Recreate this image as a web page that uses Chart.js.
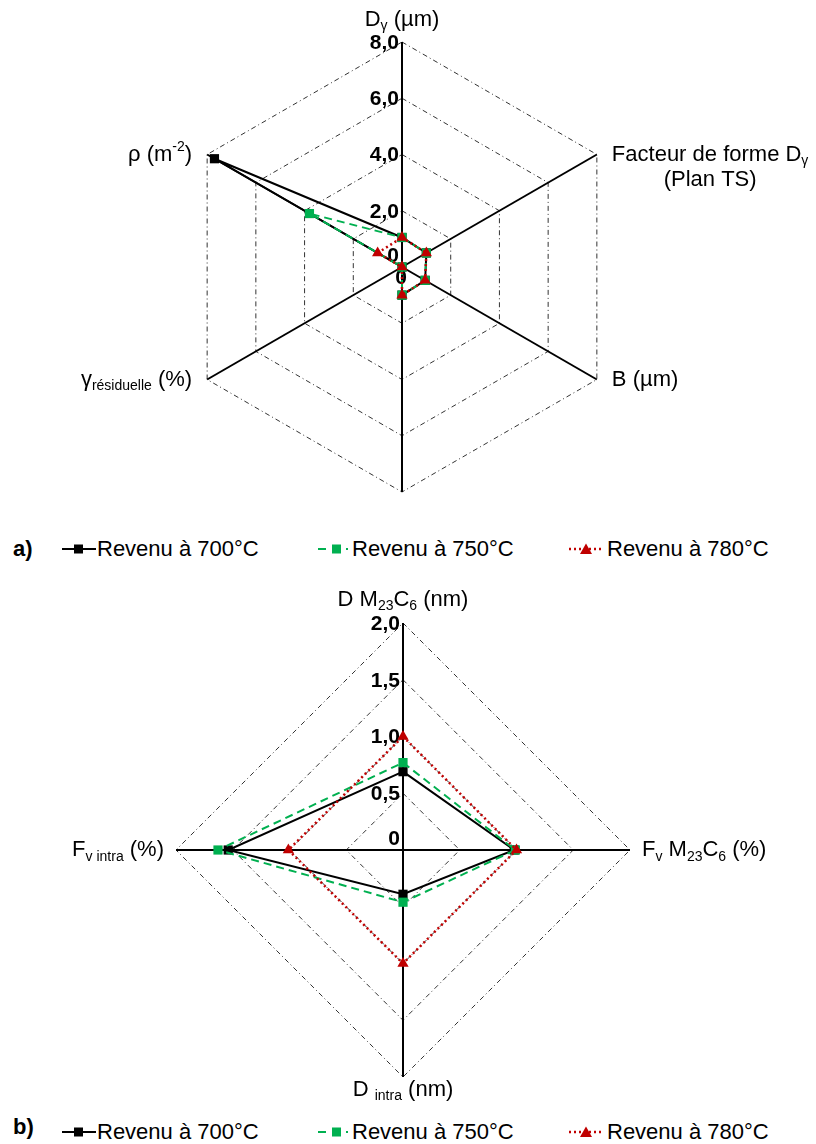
<!DOCTYPE html>
<html>
<head>
<meta charset="utf-8">
<script src="https://cdn.jsdelivr.net/npm/chart.js@4.4.1/dist/chart.umd.min.js"></script>
<style>
  body { margin: 0; background: #fff; font-family: "Liberation Sans", Arial, sans-serif; }
  #page { position: relative; width: 816px; height: 1144px; overflow: hidden; }
  canvas { position: absolute; left: 0; }
  .legend { position: absolute; left: 0; width: 816px; height: 30px; font-size: 22px; color: #000; }
  .legend span { position: absolute; top: 0; white-space: nowrap; line-height: 25px; }
  .legend svg { position: absolute; top: 6px; }
  .legend .tag { font-weight: bold; }
</style>
</head>
<body>
<div id="page">
  <canvas id="chartA" width="816" height="510" style="top:0"></canvas>
  <div class="legend" style="top:536px">
    <span class="tag" style="left:13px">a)</span>
    <svg style="left:62px" width="34" height="14"><line x1="0" y1="7" x2="34" y2="7" stroke="#000" stroke-width="2"/><rect x="12" y="2.5" width="9" height="9" fill="#000"/></svg>
    <span style="left:97px">Revenu à 700°C</span>
    <svg style="left:318px" width="30" height="14"><line x1="0" y1="7" x2="30" y2="7" stroke="#00B050" stroke-width="2" stroke-dasharray="8,6"/><rect x="14" y="2.5" width="9" height="9" fill="#00B050"/></svg>
    <span style="left:352px">Revenu à 750°C</span>
    <svg style="left:569px" width="34" height="14"><line x1="0" y1="7" x2="34" y2="7" stroke="#C00000" stroke-width="2.5" stroke-dasharray="2,3"/><polygon points="17,1.5 23,12 11,12" fill="#C00000"/></svg>
    <span style="left:607px">Revenu à 780°C</span>
  </div>
  <canvas id="chartB" width="816" height="600" style="top:510px"></canvas>
  <div class="legend" style="top:1119px">
    <span class="tag" style="left:13px;top:-5px">b)</span>
    <svg style="left:62px" width="34" height="14"><line x1="0" y1="7" x2="34" y2="7" stroke="#000" stroke-width="2"/><rect x="12" y="2.5" width="9" height="9" fill="#000"/></svg>
    <span style="left:97px">Revenu à 700°C</span>
    <svg style="left:318px" width="30" height="14"><line x1="0" y1="7" x2="30" y2="7" stroke="#00B050" stroke-width="2" stroke-dasharray="8,6"/><rect x="14" y="2.5" width="9" height="9" fill="#00B050"/></svg>
    <span style="left:352px">Revenu à 750°C</span>
    <svg style="left:569px" width="34" height="14"><line x1="0" y1="7" x2="34" y2="7" stroke="#C00000" stroke-width="2.5" stroke-dasharray="2,3"/><polygon points="17,1.5 23,12 11,12" fill="#C00000"/></svg>
    <span style="left:607px">Revenu à 780°C</span>
  </div>
</div>
<script>
// ---- data, chart a) ----
const categoriesA = ['D_{γ} (µm)', 'Facteur de forme D_{γ}\n(Plan TS)', 'B (µm)', '', 'γ_{résiduelle} (%)', 'ρ (m^{-2})'];
const a700 = [1.05, 1.0, 0.95, 1.0, 0, 7.7];
const a750 = [1.05, 1.0, 0.95, 1.0, 0, 3.8];
const a780 = [1.05, 1.0, 0.95, 1.0, 0, 1.0];
const tickValuesA = [0, 2, 4, 6, 8];
const tickLabelsA = ['0', '2,0', '4,0', '6,0', '8,0'];

// ---- data, chart b) ----
const categoriesB = ['D M_{23}C_{6} (nm)', 'F_{v} M_{23}C_{6} (%)', 'D _{intra} (nm)', 'F_{v intra} (%)'];
const b700 = [0.69, 0.98, 0.39, 1.54];
const b750 = [0.77, 0.99, 0.46, 1.63];
const b780 = [1.0, 1.0, 1.0, 1.01];
const tickValuesB = [0, 0.5, 1.0, 1.5, 2.0];
const tickLabelsB = ['0', '0,5', '1,0', '1,5', '2,0'];

const seriesNames = ['Revenu à 700°C', 'Revenu à 750°C', 'Revenu à 780°C'];

const FONT = '"Liberation Sans", Arial, sans-serif';

// labels use _{..} for subscript, ^{..} for superscript
function parseRich(str) {
  return str.split('\n').map(line => {
    const parts = [];
    const re = /([_^])\{([^}]*)\}|([^_^]+)/g;
    let m;
    while ((m = re.exec(line))) {
      if (m[3]) parts.push({ t: m[3], k: 'n' });
      else parts.push({ t: m[2], k: m[1] === '_' ? 'sub' : 'sup' });
    }
    return parts;
  });
}
function segFont(k) { return k === 'n' ? `22px ${FONT}` : `14px ${FONT}`; }
function richWidth(ctx, parts) {
  let w = 0;
  parts.forEach(p => { ctx.font = segFont(p.k); w += ctx.measureText(p.t).width; });
  return w;
}
function drawRich(ctx, parts, x, y) {
  parts.forEach(p => {
    ctx.font = segFont(p.k);
    const dy = p.k === 'sub' ? 7 : p.k === 'sup' ? -7 : 0;
    ctx.fillText(p.t, x, y + dy);
    x += ctx.measureText(p.t).width;
  });
}

const radarLabels = {
  id: 'radarLabels',
  beforeDatasetsDraw(chart, args, opts) {
    const scale = chart.scales.r;
    const ctx = chart.ctx;
    ctx.save();
    ctx.fillStyle = '#000';
    ctx.font = `bold 21px ${FONT}`;
    ctx.textAlign = 'right';
    ctx.textBaseline = 'middle';
    scale.ticks.forEach((t, i) => {
      const y = scale.yCenter - scale.getDistanceFromCenterForValue(t.value);
      ctx.fillText(opts.tickLabels[i], scale.xCenter - 3, y + (i === 0 ? -11 : 1));
    });
    if (opts.extraZero) {
      ctx.textAlign = 'center';
      ctx.fillText('0', scale.xCenter - 1, scale.yCenter + 11);
    }
    ctx.restore();
  },
  afterDraw(chart, args, opts) {
    const scale = chart.scales.r;
    const ctx = chart.ctx;
    const lineH = 25;
    ctx.save();
    ctx.fillStyle = '#000';
    ctx.textAlign = 'left';
    ctx.textBaseline = 'middle';
    chart.data.labels.forEach((label, i) => {
      if (!label) return;
      const lines = parseRich(label);
      const p = scale.getPointPosition(i, scale.drawingArea);
      const dx = p.x - scale.xCenter, dy = p.y - scale.yCenter;
      const widths = lines.map(l => richWidth(ctx, l));
      const blockW = Math.max(...widths);
      let left, top;
      if (Math.abs(dx) < 1) {
        left = p.x - blockW / 2;
        top = dy < 0 ? p.y - opts.gapTop - lines.length * lineH : p.y + opts.gapBottom;
      } else if (dx > 0) {
        left = p.x + opts.side;
        top = p.y - lineH / 2;
      } else {
        left = p.x - opts.side - blockW;
        top = p.y - lineH / 2;
      }
      lines.forEach((l, j) => drawRich(ctx, l, left + (blockW - widths[j]) / 2, top + lineH * j + lineH / 2));
    });
    ctx.restore();
  }
};

function makeDatasets(s700, s750, s780) {
  return [
    { label: seriesNames[0], data: s700, borderColor: '#000', backgroundColor: '#000', borderWidth: 2,
      fill: false, pointStyle: 'rect', pointRadius: 6.5, pointBorderWidth: 0, order: 2 },
    { label: seriesNames[1], data: s750, borderColor: '#00B050', backgroundColor: '#00B050', borderWidth: 2,
      borderDash: [8, 5], fill: false, pointStyle: 'rect', pointRadius: 6.5, pointBorderWidth: 0, order: 1 },
    { label: seriesNames[2], data: s780, borderColor: '#C00000', backgroundColor: '#C00000', borderWidth: 2.5,
      borderDash: [2, 3], fill: false, pointStyle: 'triangle', pointRadius: 6.5, pointBorderWidth: 0, order: 0 }
  ];
}

function makeOptions(tickValues, tickLabels, padding, labelOpts, extraZero) {
  return {
    responsive: false,
    animation: false,
    layout: { padding: padding },
    plugins: {
      legend: { display: false },
      tooltip: { enabled: false },
      radarLabels: Object.assign({ tickLabels: tickLabels, extraZero: extraZero }, labelOpts)
    },
    elements: { line: { tension: 0 } },
    scales: {
      r: {
        min: tickValues[0],
        max: tickValues[tickValues.length - 1],
        ticks: { stepSize: tickValues[1] - tickValues[0], display: false },
        pointLabels: { display: false },
        angleLines: { color: '#000', lineWidth: 2 },
        grid: { color: '#333', lineWidth: 1 },
        border: { dash: [5, 3, 1, 3] }
      }
    }
  };
}

new Chart(document.getElementById('chartA'), {
  type: 'radar',
  data: { labels: categoriesA, datasets: makeDatasets(a700, a750, a780) },
  options: makeOptions(tickValuesA, tickLabelsA,
    { left: 177, right: 189, top: 42, bottom: 18 },
    { side: 15, gapTop: 10, gapBottom: 4 }, true),
  plugins: [radarLabels]
});

new Chart(document.getElementById('chartB'), {
  type: 'radar',
  data: { labels: categoriesB, datasets: makeDatasets(b700, b750, b780) },
  options: makeOptions(tickValuesB, tickLabelsB,
    { left: 176, right: 186, top: 113, bottom: 33 },
    { side: 12, gapTop: 11, gapBottom: 0 }, false),
  plugins: [radarLabels]
});
</script>
</body>
</html>
